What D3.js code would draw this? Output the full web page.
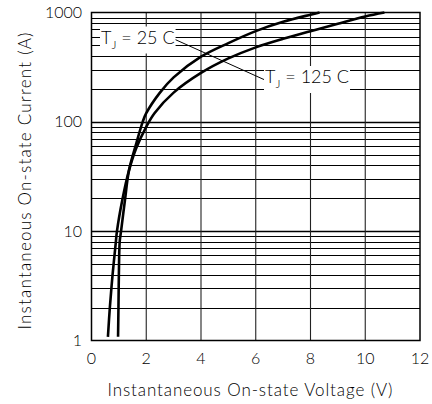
<!DOCTYPE html>
<html>
<head>
<meta charset="utf-8">
<script src="https://cdn.jsdelivr.net/npm/d3@7"></script>
<style>
  html, body { margin: 0; padding: 0; background: #fff; }
  svg { display: block; }
  text { font-family: Lato, "Liberation Sans", Arial, sans-serif; font-weight: 300; fill: #000; }
</style>
</head>
<body>
<svg id="chart" width="432" height="404"></svg>
<script>
// ---- data ----
const xTicks = [0, 2, 4, 6, 8, 10, 12];
const yTickLabels = [1, 10, 100, 1000];
const voltage25 = [0.97, 0.985, 1.0, 1.03, 1.08, 1.22, 1.37, 1.64, 1.87, 2.0, 2.5, 3.0, 4.0, 5.0, 6.0, 7.0, 8.0, 8.33];
const current25 = [1.08, 2, 4, 8, 10, 19, 36, 64, 100, 120, 185, 255, 394, 525, 676, 822, 955, 1000];
const voltage125 = [0.6, 0.67, 0.77, 0.89, 0.93, 1.12, 1.37, 1.64, 2.0, 2.3, 3.0, 4.0, 5.0, 6.0, 7.0, 8.0, 9.0, 10.0, 10.7];
const current125 = [1.08, 2, 4, 8, 10, 19, 36, 58, 90, 120, 185, 280, 380, 480, 575, 675, 790, 920, 1000];
const labels = ["25 C", "125 C"];
const xTitle = "Instantaneous On-state Voltage (V)";
const yTitle = "Instantaneous On-state Current (A)";

// ---- layout ----
const L = 91.5, R = 420, T = 12.5, B = 340.5;
const svg = d3.select("#chart");
const x = d3.scaleLinear().domain([0, 12]).range([L, R]);
const y = d3.scaleLog().domain([1, 1000]).range([B, T]);

// horizontal grid
const hVals = y.ticks().filter(v => v > 1 && v < 1000);
svg.append("g").selectAll("line").data(hVals).join("line")
  .attr("x1", L).attr("x2", R)
  .attr("y1", d => Math.round(y(d)) + 0.5).attr("y2", d => Math.round(y(d)) + 0.5)
  .attr("stroke", "#000")
  .attr("stroke-width", d => (d === 10 || d === 100) ? 1.6 : 1);

// vertical grid
svg.append("g").selectAll("line").data(xTicks.filter(v => v > 0 && v < 12)).join("line")
  .attr("x1", d => x(d)).attr("x2", d => x(d))
  .attr("y1", T).attr("y2", B)
  .attr("stroke", "#222").attr("stroke-width", 1.1);

// curves
const line = d3.line().x(d => x(d[0])).y(d => y(d[1])).curve(d3.curveCatmullRom.alpha(0.5));
const s25 = voltage25.map((v, i) => [v, current25[i]]);
const s125 = voltage125.map((v, i) => [v, current125[i]]);
[s25, s125].forEach(s => {
  svg.append("path").datum(s).attr("d", line)
    .attr("fill", "none").attr("stroke", "#000").attr("stroke-width", 2.6)
    .attr("stroke-linejoin", "round");
});

// leader line
svg.append("line")
  .attr("x1", 174).attr("y1", 39).attr("x2", 265).attr("y2", 80)
  .attr("stroke", "#000").attr("stroke-width", 1);

// labels with white boxes
function addLabel(tx, ty, rest) {
  const g = svg.append("g");
  const rect = g.append("rect").attr("fill", "#fff");
  const t = g.append("text").attr("x", tx).attr("y", ty).style("font-size", "18px");
  t.append("tspan").text("T");
  t.append("tspan").attr("dy", 5).style("font-size", "12px").text("J");
  t.append("tspan").attr("dy", -5).text(" = " + rest);
  const bb = t.node().getBBox();
  rect.attr("x", bb.x - 1).attr("y", bb.y + 1).attr("width", bb.width + 2).attr("height", bb.height + 1);
}
addLabel(101, 43.5, labels[0]);
addLabel(265, 83, labels[1]);

// frame
svg.append("rect").attr("x", L).attr("y", T).attr("width", R - L).attr("height", B - T)
  .attr("fill", "none").attr("stroke", "#000").attr("stroke-width", 1.5);

// tick labels
svg.append("g").selectAll("text").data(xTicks).join("text")
  .attr("x", d => x(d)).attr("y", 364)
  .attr("text-anchor", "middle").style("font-size", "16px")
  .text(d => d);
svg.append("g").selectAll("text").data(yTickLabels).join("text")
  .attr("x", 82).attr("y", d => y(d) + 5.5)
  .attr("text-anchor", "end").style("font-size", "16px")
  .text(d => d);

// axis titles
svg.append("text").attr("x", 250).attr("y", 396)
  .attr("text-anchor", "middle").style("font-size", "17px")
  .attr("textLength", 285).attr("lengthAdjust", "spacing")
  .text(xTitle);
svg.append("text").attr("transform", "translate(31,181) rotate(-90)")
  .attr("text-anchor", "middle").style("font-size", "17px")
  .attr("textLength", 297).attr("lengthAdjust", "spacing")
  .text(yTitle);
</script>
</body>
</html>
